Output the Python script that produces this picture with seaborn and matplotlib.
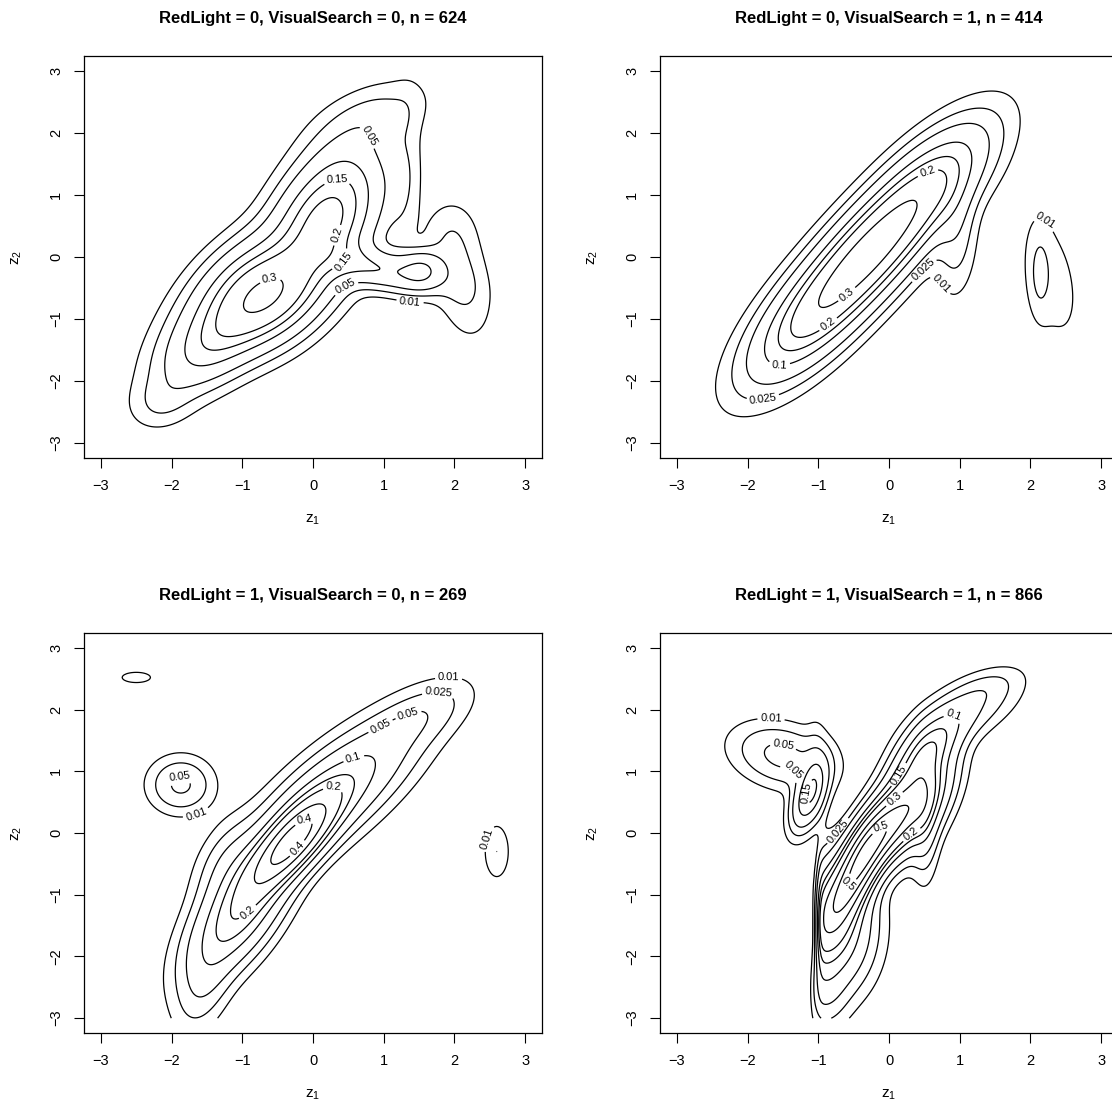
import numpy as np
import matplotlib
matplotlib.use("Agg")
import matplotlib.pyplot as plt
import seaborn as sns

# ---- text -------------------------------------------------------------
titles = ["RedLight = 0, VisualSearch = 0, n = 624",
          "RedLight = 0, VisualSearch = 1, n = 414",
          "RedLight = 1, VisualSearch = 0, n = 269",
          "RedLight = 1, VisualSearch = 1, n = 866"]
tick_values = [-3, -2, -1, 0, 1, 2, 3]
contour_levels = [0.01, 0.025, 0.05, 0.1, 0.15, 0.2, 0.3, 0.4, 0.5]

# ---- density bumps:
# centre (mx, my), spread along / across the ridge, ridge angle (deg),
# peak height, and left cut-off in z1 (None = no cut)
p1_mx = [-0.65, -1.45, -2.15, -1.20, 0.15, 0.50, 0.85, 1.30, 0.95, 1.55,
         2.10, 1.95]
p1_my = [-0.60, -1.40, -2.35, -0.35, 0.55, 1.30, 2.25, 1.25, -0.20, -0.20,
         -0.35, 0.40]
p1_sa = [0.60, 0.60, 0.30, 0.80, 0.55, 0.50, 0.50, 0.80, 0.50, 0.20,
         0.60, 0.35]
p1_sp = [0.40, 0.33, 0.25, 0.30, 0.40, 0.40, 0.30, 0.15, 0.20, 0.20,
         0.25, 0.25]
p1_ang = [45, 48, 40, 50, 70, 80, 30, 88, -15, 0, -80, 80]
p1_amp = [0.30, 0.11, 0.02, 0.035, 0.20, 0.07, 0.032, 0.018, 0.09, 0.08,
          0.030, 0.012]
p1_cut = [None] * 12

p2_mx = [-0.30, -0.98, 0.38, 0.95, 2.13, 2.30]
p2_my = [0.05, -0.81, 0.91, 0.35, -0.27, -0.35]
p2_sa = [0.70, 0.85, 0.85, 0.60, 0.45, 0.80]
p2_sp = [0.33, 0.33, 0.33, 0.18, 0.10, 0.28]
p2_ang = [52, 52, 52, 88, 90, 100]
p2_amp = [0.17, 0.24, 0.24, 0.035, 0.02, 0.016]
p2_cut = [None] * 6

p3_mx = [-0.30, 0.30, -1.05, -1.55, 1.55, -1.20, -1.87, -2.50, 2.60]
p3_my = [-0.15, 0.65, -1.30, -2.50, 1.90, -0.50, 0.78, 2.52, -0.30]
p3_sa = [0.60, 0.95, 0.70, 0.50, 0.50, 0.45, 0.28, 0.17, 0.30]
p3_sp = [0.22, 0.35, 0.30, 0.22, 0.25, 0.25, 0.28, 0.07, 0.12]
p3_ang = [53, 45, 60, 75, 35, 70, -20, 0, 90]
p3_amp = [0.38, 0.13, 0.18, 0.035, 0.03, 0.035, 0.056, 0.02, 0.025]
p3_cut = [None] * 9

p4_mx = [-0.45, -0.85, -0.92, 0.00, 0.40, 0.50, 0.55, 1.05, 1.35, -1.13,
         -1.50, -1.02]
p4_my = [-0.60, -1.50, -2.55, 0.10, 0.55, 0.30, 1.35, 1.95, 2.35, 0.60,
         1.25, 1.00]
p4_sa = [0.65, 0.60, 0.40, 0.55, 0.55, 0.60, 0.45, 0.55, 0.30, 0.35,
         0.45, 0.50]
p4_sp = [0.18, 0.35, 0.20, 0.22, 0.25, 0.12, 0.20, 0.25, 0.15, 0.13,
         0.30, 0.10]
p4_ang = [67, 90, 90, 55, 70, 90, 55, 35, 25, 75, -20, 90]
p4_amp = [0.42, 0.20, 0.035, 0.28, 0.17, 0.06, 0.14, 0.05, 0.015, 0.15,
          0.06, 0.02]
p4_cut = [-1.0, -1.0, -1.1] + [None] * 9

# ---- where the contour labels sit in the reference -------------------
p1_lab = [(0.77, 1.94), (0.34, 1.25), (0.32, 0.36), (0.37, 0.0),
          (-0.59, -0.44), (0.44, -0.44), (1.37, -0.76)]
p2_lab = [(-0.57, -0.64), (-0.87, -1.07), (0.54, 1.39), (-1.55, -1.65),
          (0.49, -0.21), (-1.78, -2.3), (0.69, -0.47), (2.19, 0.56)]
p3_lab = [(-0.26, -0.21), (-0.14, 0.27), (0.29, 0.68), (-0.89, -1.33),
          (0.59, 1.16), (1.04, 1.54), (1.37, 1.85), (1.77, 2.15),
          (1.92, 2.42), (-1.9, 1.02), (-1.67, 0.36), (2.5, -0.1)]
p4_lab = [(-0.59, -0.84), (-0.12, 0.1), (0.09, 0.53), (0.16, 0.93),
          (0.31, -0.01), (0.94, 1.97), (-1.28, 1.11), (-1.15, 0.65),
          (-1.48, 1.52), (-1.67, 1.82), (-0.74, 0.05)]

panels = [(p1_mx, p1_my, p1_sa, p1_sp, p1_ang, p1_amp, p1_cut),
          (p2_mx, p2_my, p2_sa, p2_sp, p2_ang, p2_amp, p2_cut),
          (p3_mx, p3_my, p3_sa, p3_sp, p3_ang, p3_amp, p3_cut),
          (p4_mx, p4_my, p4_sa, p4_sp, p4_ang, p4_amp, p4_cut)]
label_spots = [p1_lab, p2_lab, p3_lab, p4_lab]


def surface(X, Y, mx, my, sa, sp, ang, amp, cut):
    Z = np.zeros_like(X)
    for a, b, s, t, g, h, c in zip(mx, my, sa, sp, ang, amp, cut):
        th = np.deg2rad(g)
        u = (X - a) * np.cos(th) + (Y - b) * np.sin(th)
        v = -(X - a) * np.sin(th) + (Y - b) * np.cos(th)
        bump = h * np.exp(-0.5 * ((u / s) ** 2 + (v / t) ** 2))
        if c is not None:
            bump = bump / (1.0 + np.exp(-np.clip((X - c) / 0.025, -50, 50)))
        Z += bump
    return Z


sns.set_theme(style="ticks")
plt.rcParams["font.family"] = ["Liberation Sans", "DejaVu Sans"]
plt.rcParams["axes.unicode_minus"] = True
for key in ["text.color", "axes.labelcolor", "xtick.color", "ytick.color",
            "axes.edgecolor"]:
    plt.rcParams[key] = "black"

fig = plt.figure(figsize=(11.12, 11.11), dpi=100)
W, H = 1112.0, 1111.0
boxes = [(84, 56, 458, 402), (660, 56, 458, 402),
         (84, 633, 458, 400), (660, 633, 458, 400)]

grid = np.linspace(-3, 3, 301)
X, Y = np.meshgrid(grid, grid)

for i, (bx, by, bw, bh) in enumerate(boxes):
    ax = fig.add_axes([bx / W, 1 - (by + bh) / H, bw / W, bh / H])
    Z = surface(X, Y, *panels[i])
    lv = [l for l in contour_levels if l < Z.max()]
    cs = ax.contour(X, Y, Z, levels=lv, colors="black", linewidths=0.9)
    ax.clabel(cs, fmt=lambda v: f"{v:g}", fontsize=8, inline=True,
              inline_spacing=4, manual=label_spots[i])
    ax.set_xlim(-3.24, 3.24)
    ax.set_ylim(-3.24, 3.24)
    ax.set_xticks(tick_values)
    ax.set_yticks(tick_values)
    ax.tick_params(direction="out", length=7, width=0.8, labelsize=10.5,
                   colors="black", pad=8)
    ax.tick_params(axis="y", labelrotation=90)
    for lab in ax.get_yticklabels():
        lab.set_va("center")
    for sp in ax.spines.values():
        sp.set_linewidth(0.9)
        sp.set_color("black")
    ax.set_title(titles[i], fontsize=12, fontweight="bold", pad=24)
    ax.set_xlabel(r"$\mathregular{z_1}$", fontsize=11, labelpad=14)
    ax.set_ylabel(r"$\mathregular{z_2}$", fontsize=11, labelpad=18)

fig.savefig("out.png", dpi=100, facecolor="white")
